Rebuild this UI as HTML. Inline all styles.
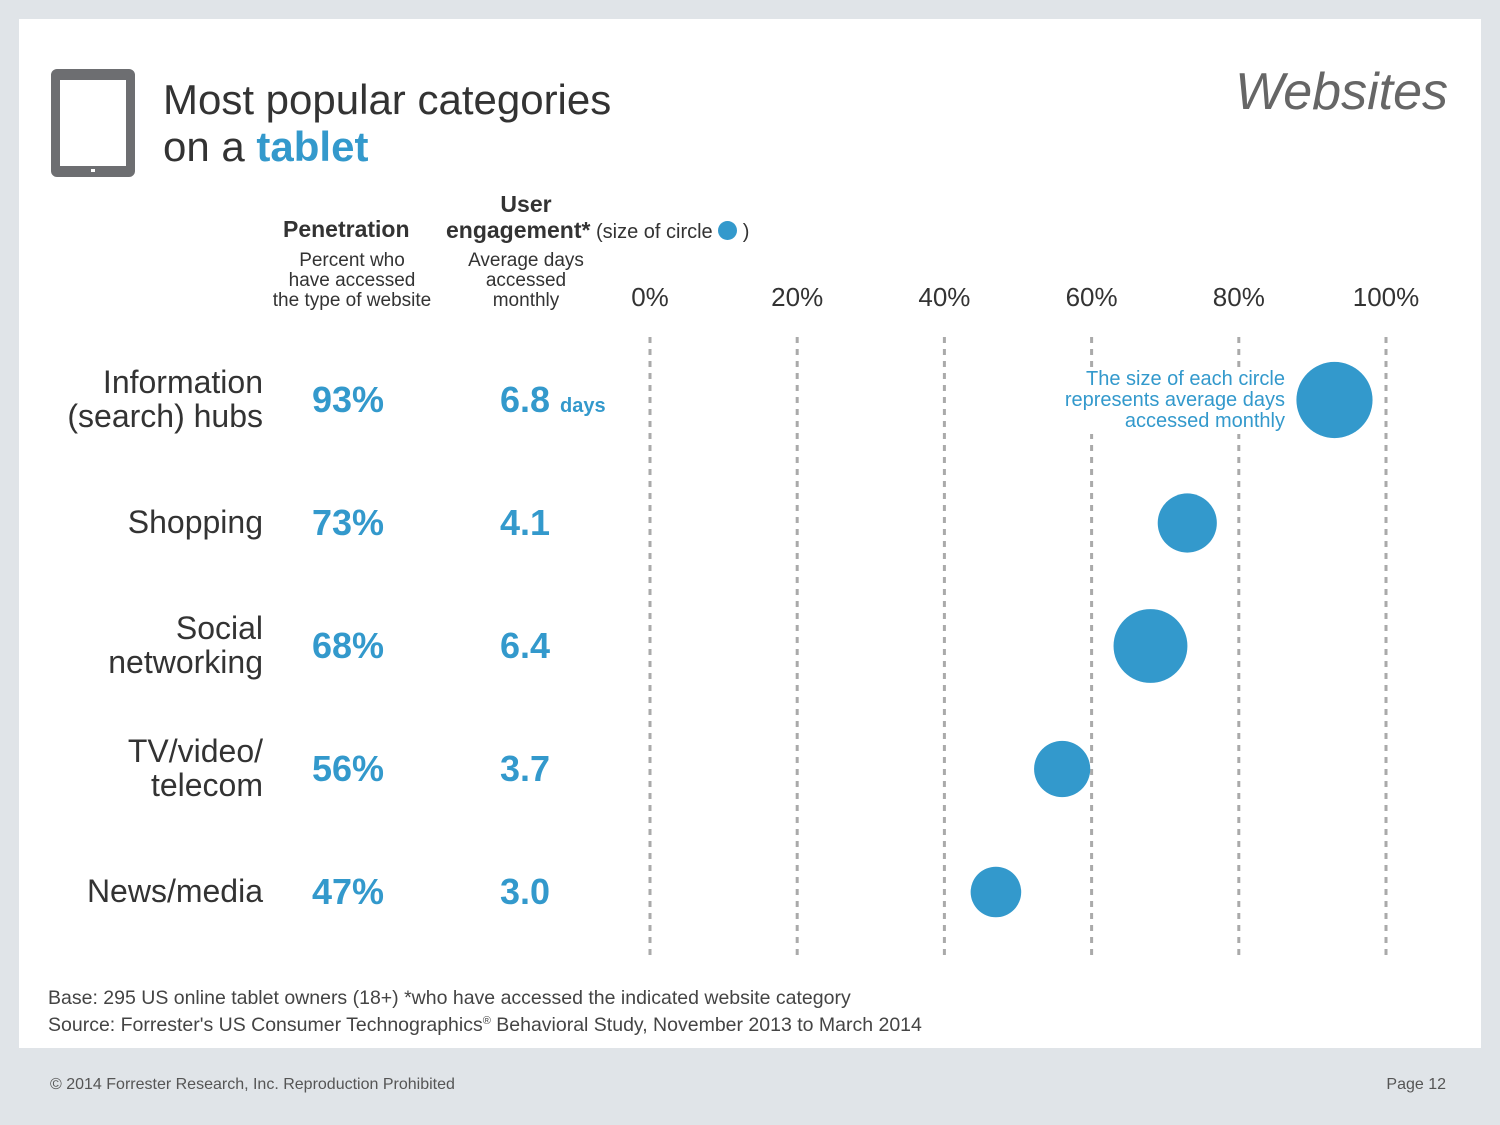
<!DOCTYPE html>
<html><head><meta charset="utf-8"><style>
body{margin:0;width:1500px;height:1125px;background:#e0e4e8;font-family:"Liberation Sans",sans-serif;position:relative;overflow:hidden}
.a{position:absolute;white-space:nowrap}
.panel{position:absolute;left:19px;top:19px;width:1462px;height:1029px;background:#fff}
.cat{right:1237px;text-align:right;font-size:32px;color:#333;line-height:34px}
.pen{left:312px;font-size:36px;font-weight:bold;color:#3399cc}
.eng{left:500px;font-size:36px;font-weight:bold;color:#3399cc}
.hd{font-size:23px;font-weight:bold;color:#333}
.sub{font-size:19px;color:#333;line-height:20px;text-align:center}
.tick{font-size:26px;color:#333;transform:translateX(-50%)}
</style></head><body>
<div class="panel"></div>
<div class="a" style="left:51px;top:69px;width:66px;height:86px;border:9px solid #6d6e71;border-top-width:11px;border-bottom-width:11px;border-radius:6px;background:#fff"></div>
<div class="a" style="left:91px;top:169px;width:4px;height:3px;background:#fff"></div>
<div class="a" style="left:163px;top:76px;font-size:42px;line-height:47px;color:#333">Most popular categories<br>on a <b style="color:#3399cc">tablet</b></div>
<div class="a" style="right:52px;top:62px;font-size:52px;font-style:italic;color:#666">Websites</div>
<div class="a hd" style="left:283px;top:216px">Penetration</div>
<div class="a sub" style="left:252px;width:200px;top:251px">Percent who<br>have accessed<br>the type of website</div>
<div class="a hd" style="left:446px;width:160px;text-align:center;top:191px">User</div>
<div class="a hd" style="left:446px;top:217px">engagement*<span style="font-weight:normal;font-size:20px"> (size of circle <span style="display:inline-block;width:19px;height:19px;border-radius:50%;background:#3399cc;vertical-align:-2px"></span> )</span></div>
<div class="a sub" style="left:426px;width:200px;top:251px">Average days<br>accessed<br>monthly</div>
<svg class="a" style="left:0;top:0" width="1500" height="1125" id="chart"></svg>
<div class="a" style="right:215px;top:367px;font-size:20px;line-height:21px;color:#3399cc;text-align:right;background:#fff;padding:2px 0 2px 6px">The size of each circle<br>represents average days<br>accessed monthly</div>
<div class="a" style="left:48px;top:985px;font-size:19.5px;line-height:27px;color:#444">Base: 295 US online tablet owners (18+) *who have accessed the indicated website category<br>Source: Forrester's US Consumer Technographics<span style="font-size:11px;vertical-align:7px;line-height:0">®</span> Behavioral Study, November 2013 to March 2014</div>
<div class="a" style="left:50px;top:1076px;font-size:16px;color:#555">© 2014 Forrester Research, Inc. Reproduction Prohibited</div>
<div class="a" style="right:54px;top:1076px;font-size:16px;color:#555">Page 12</div>
<script>
const categories=["Information\n(search) hubs","Shopping","Social\nnetworking","TV/video/\ntelecom","News/media"];
const penetration=[93,73,68,56,47];
const days=[6.8,4.1,6.4,3.7,3.0];
const ticks=[0,20,40,60,80,100];
const X=v=>650+v*7.36;
const Y=i=>400+i*123;
const R=d=>14.6*Math.sqrt(d);
const svg=document.getElementById('chart');
const NS='http://www.w3.org/2000/svg';
ticks.forEach(t=>{
 const l=document.createElementNS(NS,'line');
 
 
 l.setAttribute('x1',X(t));l.setAttribute('x2',X(t));l.setAttribute('y1',337);l.setAttribute('y2',955);
 l.setAttribute('stroke','#aaa');l.setAttribute('stroke-width','3');l.setAttribute('stroke-dasharray','6 6');
 svg.appendChild(l);
 const d=document.createElement('div');
 
 
 d.className='a tick';d.style.left=X(t)+'px';d.style.top='282px';d.textContent=t+'%';
 document.body.appendChild(d);
});
categories.forEach((c,i)=>{
 const ci=document.createElementNS(NS,'circle');
 
 
 ci.setAttribute('cx',X(penetration[i]));ci.setAttribute('cy',Y(i));ci.setAttribute('r',R(days[i]));ci.setAttribute('fill','#3399cc');
 svg.appendChild(ci);
 const lines=c.split('\n');
 const cd=document.createElement('div');
 
 
 cd.className='a cat';cd.style.top=(Y(i)-lines.length*17-1)+'px';cd.innerHTML=lines.join('<br>');
 document.body.appendChild(cd);
 const p=document.createElement('div');
 
 
 p.className='a pen';p.style.top=(Y(i)-21)+'px';p.textContent=penetration[i]+'%';
 document.body.appendChild(p);
 const e=document.createElement('div');
 
 
 e.className='a eng';e.style.top=(Y(i)-21)+'px';
 e.innerHTML=days[i].toFixed(1)+(i===0?' <span style="font-size:20px">days</span>':'');
 document.body.appendChild(e);
});
</script>
</body></html>
